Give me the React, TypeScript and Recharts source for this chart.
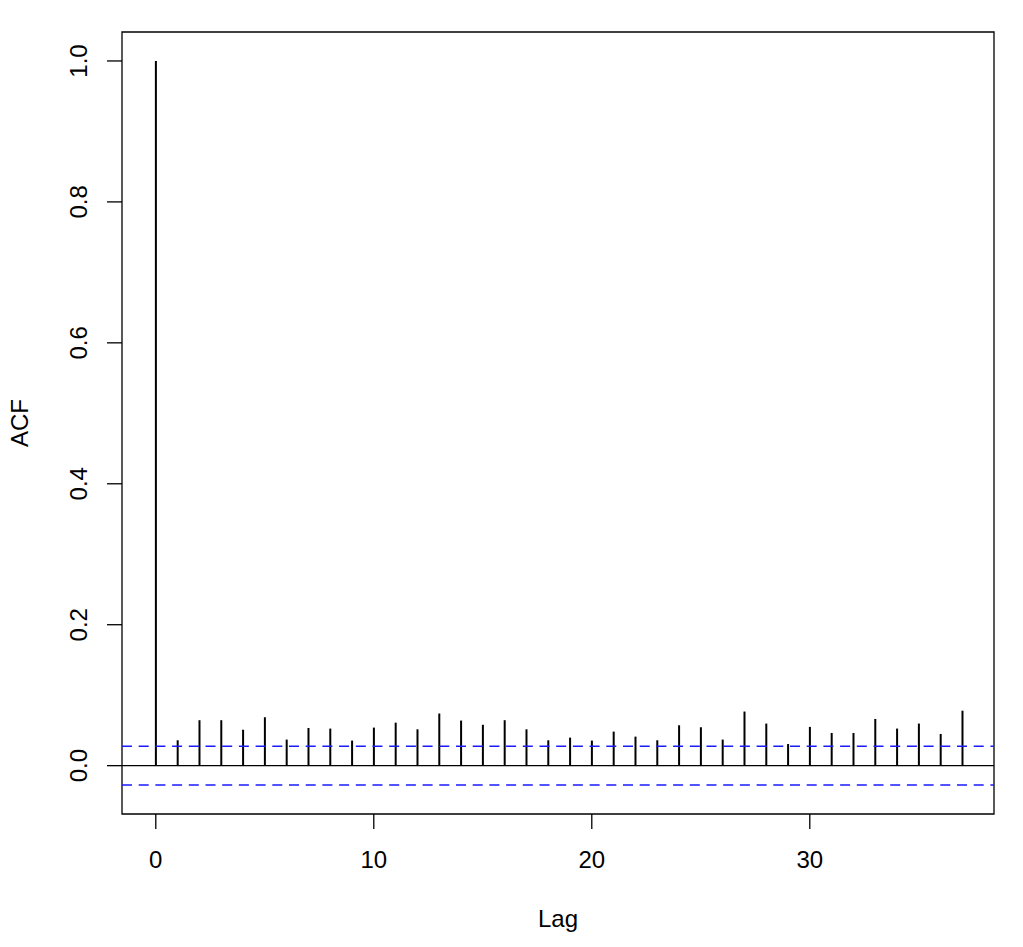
import {
  Bar,
  ComposedChart,
  ReferenceArea,
  ReferenceLine,
  XAxis,
  YAxis,
} from 'recharts';

const lags = [
  0, 1, 2, 3, 4, 5, 6, 7, 8, 9, 10, 11, 12, 13, 14, 15, 16, 17, 18, 19, 20,
  21, 22, 23, 24, 25, 26, 27, 28, 29, 30, 31, 32, 33, 34, 35, 36, 37,
];
const acfValues = [
  1.0, 0.036, 0.0645, 0.0645, 0.051, 0.0687, 0.037, 0.0535, 0.0526, 0.0356,
  0.054, 0.061, 0.0516, 0.074, 0.064, 0.058, 0.0645, 0.0516, 0.036, 0.0398,
  0.0356, 0.0483, 0.0412, 0.036, 0.0573, 0.0545, 0.037, 0.0768, 0.0597,
  0.0307, 0.055, 0.0464, 0.0464, 0.0663, 0.0526, 0.0597, 0.045, 0.078,
];
const ciBound = 0.0275;
const xTicks = [0, 10, 20, 30];
const yTicks = [0, 0.2, 0.4, 0.6, 0.8, 1.0];
const xDomain = [-1.55, 38.45];
const yDomain = [-0.0686, 1.0411];

const data = lags.map((lag, i) => ({ lag, acf: acfValues[i] }));

const font = '"Liberation Sans", Arial, Helvetica, sans-serif';

const XTick = (props: any) => (
  <text
    x={props.x}
    y={props.y + 39}
    textAnchor="middle"
    fontSize={24}
    fontFamily={font}
    fill="#000"
  >
    {props.payload.value}
  </text>
);

const YTick = (props: any) => {
  const x = props.x - 20;
  return (
    <text
      x={x}
      y={props.y}
      transform={`rotate(-90, ${x}, ${props.y})`}
      textAnchor="middle"
      fontSize={24}
      fontFamily={font}
      fill="#000"
    >
      {Number(props.payload.value).toFixed(1)}
    </text>
  );
};

export default function App() {
  return (
    <div style={{ position: 'absolute', left: 0, top: 0, background: '#fff' }}>
      <ComposedChart
        width={1023}
        height={947}
        data={data}
        margin={{ top: 32, right: 29, left: 0, bottom: 0 }}
      >
        <XAxis
          dataKey="lag"
          type="number"
          domain={xDomain}
          ticks={xTicks}
          allowDataOverflow
          height={133}
          tickSize={15}
          tickMargin={0}
          axisLine={false}
          tickLine={{ stroke: '#000', strokeWidth: 1.3 }}
          tick={<XTick />}
          label={{
            content: (p: any) => {
              const vb = p.viewBox;
              return (
                <text
                  x={vb.x + vb.width / 2}
                  y={927}
                  textAnchor="middle"
                  fontSize={24}
                  fontFamily={font}
                  fill="#000"
                >
                  Lag
                </text>
              );
            },
          }}
        />
        <YAxis
          type="number"
          domain={yDomain}
          ticks={yTicks}
          allowDataOverflow
          width={122}
          tickSize={15}
          tickMargin={0}
          axisLine={false}
          tickLine={{ stroke: '#000', strokeWidth: 1.3 }}
          tick={<YTick />}
          label={{
            content: (p: any) => {
              const vb = p.viewBox;
              const cy = vb.y + vb.height / 2;
              return (
                <text
                  x={28}
                  y={cy}
                  transform={`rotate(-90, 28, ${cy})`}
                  textAnchor="middle"
                  fontSize={24}
                  fontFamily={font}
                  fill="#000"
                >
                  ACF
                </text>
              );
            },
          }}
        />
        <ReferenceArea
          x1={xDomain[0]}
          x2={xDomain[1]}
          y1={yDomain[0]}
          y2={yDomain[1]}
          fill="none"
          stroke="#000"
          strokeWidth={1.3}
          ifOverflow="visible"
        />
        <ReferenceLine
          y={ciBound}
          stroke="#1a1aff"
          strokeWidth={1.4}
          strokeDasharray="10 6.7"
        />
        <ReferenceLine
          y={-ciBound}
          stroke="#1a1aff"
          strokeWidth={1.4}
          strokeDasharray="10 6.7"
        />
        <Bar
          dataKey="acf"
          fill="#000"
          barSize={2}
          isAnimationActive={false}
        />
        <ReferenceLine y={0} stroke="#000" strokeWidth={1.4} />
      </ComposedChart>
    </div>
  );
}
